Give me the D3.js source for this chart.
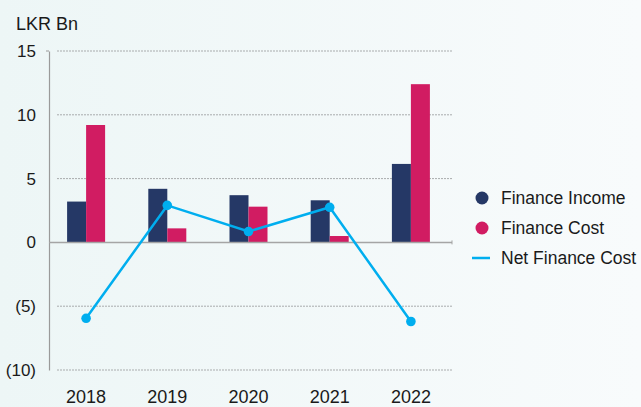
<!DOCTYPE html>
<html>
<head>
<meta charset="utf-8">
<script src="https://cdn.jsdelivr.net/npm/d3@7"></script>
<style>
  body { margin: 0; }
  text { font-family: "Liberation Sans", Arial, sans-serif; fill: #1a1a1a; }
</style>
</head>
<body>
<div id="chart"></div>
<script>
// podatki
const years = ["2018", "2019", "2020", "2021", "2022"];
const financeIncome = [3.2, 4.2, 3.7, 3.3, 6.15];
const financeCost = [9.2, 1.1, 2.8, 0.5, 12.4];
const netFinanceCost = [-5.95, 2.9, 0.85, 2.75, -6.2];
const yTicks = [15, 10, 5, 0, -5, -10];
const seriesNames = ["Finance Income", "Finance Cost", "Net Finance Cost"];

const W = 641, H = 407;
const colors = { income: "#253866", cost: "#d11c62", net: "#00aeef" };

const svg = d3.select("#chart").append("svg")
    .attr("width", W).attr("height", H);

// ozadje
const grad = svg.append("defs").append("linearGradient").attr("id", "bg");
grad.append("stop").attr("offset", "0%").attr("stop-color", "#edf6f6");
grad.append("stop").attr("offset", "100%").attr("stop-color", "#f8fbfc");
svg.append("rect").attr("width", W).attr("height", H).attr("fill", "url(#bg)");

// skale
const x = d3.scaleBand().domain(years).range([45.5, 451.5]);
const y = d3.scaleLinear().domain([-10, 15]).range([370, 51]);
const barW = 19;

// mreža
svg.append("g").selectAll("line")
    .data(yTicks.filter(d => d !== 0))
    .join("line")
    .attr("x1", 57).attr("x2", 453)
    .attr("y1", d => y(d)).attr("y2", d => y(d))
    .attr("stroke", "#a9acad").attr("stroke-width", 1)
    .attr("stroke-dasharray", "2,1");

// os y
const yAxis = svg.append("g")
    .attr("transform", "translate(49,0)")
    .call(d3.axisLeft(y).tickValues(yTicks).tickSize(0).tickPadding(13)
        .tickFormat(d => d < 0 ? `(${-d})` : d));
yAxis.select(".domain").attr("stroke", "#9a9a9a").attr("stroke-width", 1.2);
yAxis.selectAll("text").attr("font-size", 17).attr("fill", "#1a1a1a")
    .style("font-family", "'Liberation Sans', Arial, sans-serif");
svg.append("line").attr("x1", 46).attr("x2", 49)
    .attr("y1", y(15)).attr("y2", y(15)).attr("stroke", "#9a9a9a");

// stolpci
const center = d => x(d) + x.bandwidth() / 2;
svg.append("g").selectAll("rect")
    .data(financeIncome)
    .join("rect")
    .attr("x", (d, i) => center(years[i]) - barW)
    .attr("width", barW)
    .attr("y", d => y(Math.max(0, d)))
    .attr("height", d => Math.abs(y(d) - y(0)))
    .attr("fill", colors.income);
svg.append("g").selectAll("rect")
    .data(financeCost)
    .join("rect")
    .attr("x", (d, i) => center(years[i]))
    .attr("width", barW)
    .attr("y", d => y(Math.max(0, d)))
    .attr("height", d => Math.abs(y(d) - y(0)))
    .attr("fill", colors.cost);

// ničelna črta
svg.append("line").attr("x1", 49).attr("x2", 452)
    .attr("y1", y(0)).attr("y2", y(0))
    .attr("stroke", "#a5a5a5").attr("stroke-width", 1.5);
svg.append("line").attr("x1", 452).attr("x2", 452)
    .attr("y1", y(0) - 2).attr("y2", y(0) + 2)
    .attr("stroke", "#a5a5a5").attr("stroke-width", 1);

// os x
const xAxis = svg.append("g")
    .attr("transform", `translate(0,${y(-10)})`)
    .call(d3.axisBottom(x).tickSize(0).tickPadding(20));
xAxis.select(".domain").remove();
xAxis.selectAll("text").attr("font-size", 18).attr("fill", "#1a1a1a")
    .style("font-family", "'Liberation Sans', Arial, sans-serif");

// črta neto stroškov
const line = d3.line()
    .x((d, i) => center(years[i]))
    .y(d => y(d));
svg.append("path")
    .datum(netFinanceCost)
    .attr("d", line)
    .attr("fill", "none")
    .attr("stroke", colors.net)
    .attr("stroke-width", 2.5);
svg.append("g").selectAll("circle")
    .data(netFinanceCost)
    .join("circle")
    .attr("cx", (d, i) => center(years[i]))
    .attr("cy", d => y(d))
    .attr("r", 4.8)
    .attr("fill", colors.net);

// naslov enote
svg.append("text").attr("x", 16).attr("y", 30)
    .attr("font-size", 18).text("LKR Bn");

// legenda
const legend = svg.append("g");
const legY = [198, 228, 258];
legend.append("circle").attr("cx", 482).attr("cy", legY[0]).attr("r", 6.5).attr("fill", colors.income);
legend.append("circle").attr("cx", 482).attr("cy", legY[1]).attr("r", 6.5).attr("fill", colors.cost);
legend.append("line").attr("x1", 472).attr("x2", 490)
    .attr("y1", legY[2]).attr("y2", legY[2])
    .attr("stroke", colors.net).attr("stroke-width", 2.5);
legend.selectAll("text")
    .data(seriesNames)
    .join("text")
    .attr("x", 501)
    .attr("y", (d, i) => legY[i] + 6)
    .attr("font-size", 17.5)
    .text(d => d);
</script>
</body>
</html>
